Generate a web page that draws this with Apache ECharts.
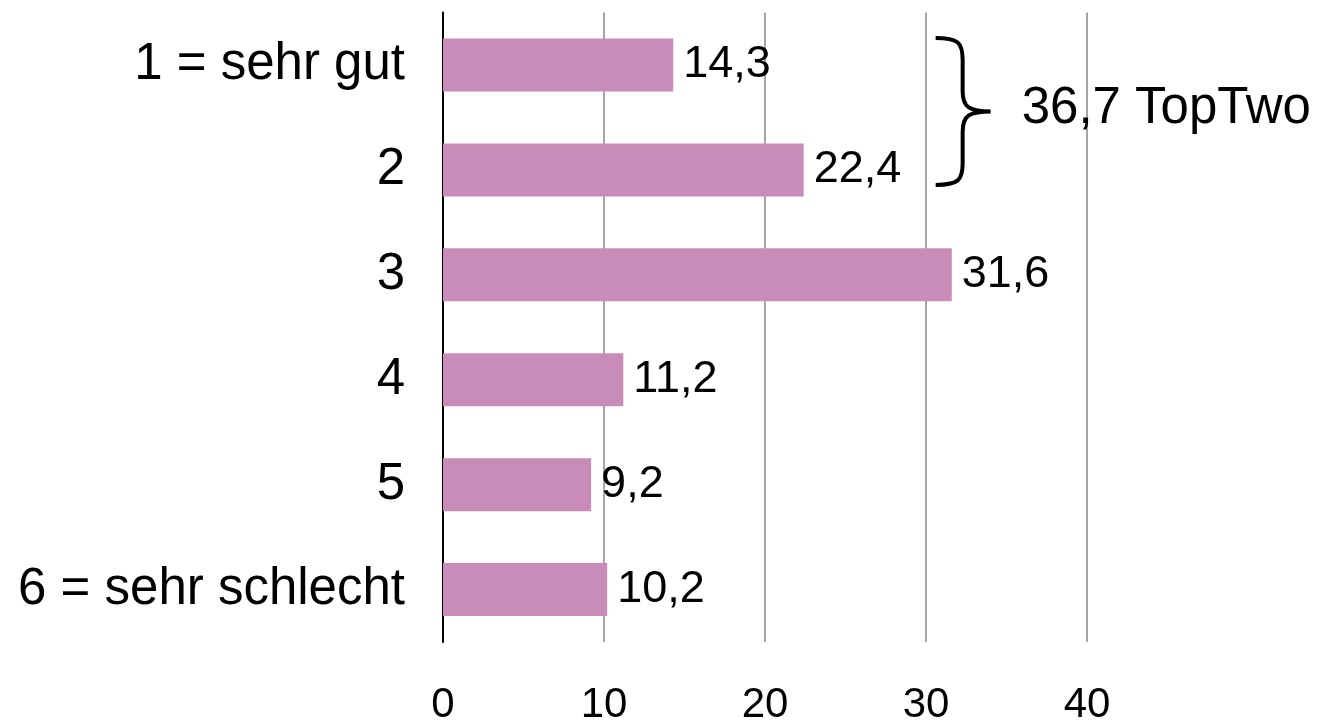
<!DOCTYPE html>
<html>
<head>
<meta charset="utf-8">
<script src="https://cdn.jsdelivr.net/npm/echarts@6/dist/echarts.min.js"></script>
<style>
  html, body { margin: 0; padding: 0; background: #fff; }
  #main { width: 1322px; height: 726px; }
</style>
</head>
<body>
<div id="main"></div>
<script>
var categories = ['1 = sehr gut', '2', '3', '4', '5', '6 = sehr schlecht'];
var values = [14.3, 22.4, 31.6, 11.2, 9.2, 10.2];
var xTicks = [0, 10, 20, 30, 40];
var topTwoText = '36,7 TopTwo';
var bracketX = 30.6; // where the brace starts, in axis units

var chart = echarts.init(document.getElementById('main'));
var fontFamily = '"Liberation Sans", Arial, sans-serif';

// curly brace spanning the first two categories
function renderBrace(params, api) {
  var p1 = api.coord([bracketX, 0]);
  var p2 = api.coord([bracketX, 1]);
  var x0 = p1[0];
  var top = p1[1] - 27;
  var bottom = p2[1] + 15;
  var mid = (top + bottom) / 2;
  var path = 'M' + x0 + ',' + top +
    ' C' + (x0 + 22) + ',' + top + ' ' + (x0 + 27) + ',' + (top + 4) + ' ' + (x0 + 27) + ',' + (top + 22) +
    ' L' + (x0 + 27) + ',' + (mid - 20) +
    ' C' + (x0 + 27) + ',' + (mid - 4) + ' ' + (x0 + 34) + ',' + mid + ' ' + (x0 + 55) + ',' + mid +
    ' C' + (x0 + 34) + ',' + mid + ' ' + (x0 + 27) + ',' + (mid + 4) + ' ' + (x0 + 27) + ',' + (mid + 20) +
    ' L' + (x0 + 27) + ',' + (bottom - 22) +
    ' C' + (x0 + 27) + ',' + (bottom - 4) + ' ' + (x0 + 22) + ',' + bottom + ' ' + x0 + ',' + bottom;
  return {
    type: 'group',
    children: [{
      type: 'path',
      shape: { pathData: path },
      style: { fill: 'none', stroke: '#000', lineWidth: 4 }
    }, {
      type: 'text',
      x: x0 + 86,
      y: mid - 2,
      style: {
        text: topTwoText,
        fill: '#000',
        fontSize: 51,
        fontFamily: fontFamily,
        verticalAlign: 'middle'
      }
    }]
  };
}

var option = {
  animation: false,
  grid: { left: 443, right: 235, top: 12.5, bottom: 83.5 },
  xAxis: {
    type: 'value',
    min: xTicks[0],
    max: xTicks[xTicks.length - 1],
    interval: 10,
    axisLine: { show: false },
    axisTick: { show: false },
    splitLine: { show: true, lineStyle: { color: '#a6a6a6', width: 2 } },
    axisLabel: {
      color: '#000',
      fontSize: 42,
      fontFamily: fontFamily,
      margin: 42
    }
  },
  yAxis: {
    type: 'category',
    inverse: true,
    data: categories,
    axisLine: { show: true, lineStyle: { color: '#000', width: 2 } },
    axisTick: { show: false },
    axisLabel: {
      color: '#000',
      fontSize: 51,
      fontFamily: fontFamily,
      margin: 38,
      padding: [4, 0, 0, 0]
    }
  },
  series: [{
    type: 'bar',
    data: values,
    barWidth: 53,
    itemStyle: { color: '#c98bb7' },
    label: {
      show: true,
      position: 'right',
      distance: 10,
      color: '#000',
      fontSize: 45,
      fontFamily: fontFamily,
      padding: [4, 0, 0, 0],
      formatter: function (p) { return p.value.toFixed(1).replace('.', ','); }
    }
  }, {
    type: 'custom',
    renderItem: renderBrace,
    data: [[bracketX, 0]],
    silent: true,
    clip: false
  }]
};
chart.setOption(option);
</script>
</body>
</html>
